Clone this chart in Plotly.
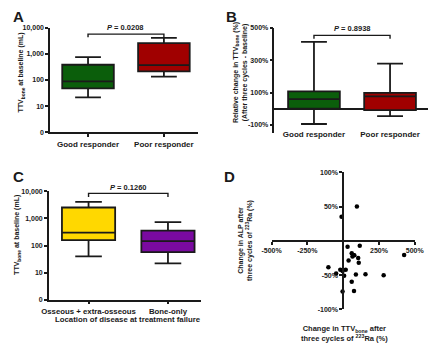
import plotly.graph_objects as go

# ---------------- data ----------------
resp_cats = ["Good responder", "Poor responder"]
# Panel A: TTV_bone at baseline (mL)
a_lower = [21.6, 135]
a_q1 = [48, 213]
a_median = [88, 370]
a_q3 = [380, 2520]
a_upper = [736, 4000]
a_p = "0.0208"

# Panel B: relative change in TTV_bone (%)
b_lower = [-94, -45]
b_q1 = [1, -9]
b_median = [59, 76]
b_q3 = [108, 98]
b_upper = [413, 279]
b_p = "0.8938"

# Panel C: TTV_bone at baseline by location of disease
loc_cats = ["Osseous + extra-osseous", "Bone-only"]
c_lower = [40, 22]
c_q1 = [158, 57]
c_median = [300, 146]
c_q3 = [2550, 355]
c_upper = [4090, 730]
c_p = "0.1260"

# Panel D: change in TTV_bone vs change in ALP (%)
d_ttv = [96, -11, 31, 116, 60, 71, 78, 65, 105, 38, 109, 426, -103, -20, 18, -4,
         -49, 7, 89, 156, 283, 60, -4, 76]
d_alp = [50, 35, -8.6, -7, -18, -20.5, -21, -23, -25, -28.6, -32, -20.5, -38.5, -42,
         -42, -44, -47.6, -51, -49, -48.6, -50, -59.5, -74, -73]

log_tickvals = [1, 10, 100, 1000, 10000]
log_ticktext = ["0", "10", "100", "1,000", "10,000"]
b_tickvals = [-100, 100, 300, 500]
b_ticktext = ["-100%", "100%", "300%", "500%"]
d_xtickvals = [-500, -250, 250, 500]
d_xticktext = ["-500%", "-250%", "250%", "500%"]
d_ytickvals = [-100, -50, 50, 100]
d_yticktext = ["-100%", "-50%", "50%", "100%"]

colors_ab = ["#0b5e0b", "#a00000"]
colors_c = ["#ffd800", "#7a0aa0"]

W, H = 440, 348
FONT = "Liberation Sans, Arial, sans-serif"
INK = "#1a1a1a"


def px(x):
    return x / W


def py(y):
    return 1 - y / H


fig = go.Figure()


def add_boxes(cats, lo, q1, med, q3, hi, cols, xa, ya, bw):
    for i, c in enumerate(cats):
        fig.add_trace(go.Box(
            x=[c], q1=[q1[i]], median=[med[i]], q3=[q3[i]],
            lowerfence=[lo[i]], upperfence=[hi[i]],
            fillcolor=cols[i], line=dict(color=INK, width=1.8),
            width=bw, whiskerwidth=0.5, boxpoints=False,
            xaxis=xa, yaxis=ya, showlegend=False, hoverinfo="skip"))


add_boxes(resp_cats, a_lower, a_q1, a_median, a_q3, a_upper, colors_ab, "x", "y", 0.68)
add_boxes(resp_cats, b_lower, b_q1, b_median, b_q3, b_upper, colors_ab, "x2", "y2", 0.68)
add_boxes(loc_cats, c_lower, c_q1, c_median, c_q3, c_upper, colors_c, "x3", "y3", 0.67)

fig.add_trace(go.Scatter(x=d_ttv, y=d_alp, mode="markers",
                         marker=dict(color="black", size=4.5),
                         xaxis="x4", yaxis="y4", showlegend=False, hoverinfo="skip"))

tickfont = dict(family=FONT, size=7, color=INK, weight="bold")
catfont = dict(family=FONT, size=8, color=INK, weight="bold")
catfont_c = dict(family=FONT, size=7.8, color=INK, weight="bold")
axcommon = dict(showgrid=False, zeroline=False, showline=True, linecolor=INK,
                linewidth=1.5, ticks="outside", ticklen=3, tickwidth=1.5,
                tickcolor=INK)

fig.update_layout(
    width=W, height=H, margin=dict(l=0, r=0, t=0, b=0),
    paper_bgcolor="white", plot_bgcolor="white",
    font=dict(family=FONT, color=INK),
    # Panel A
    xaxis=dict(domain=[px(42), px(197)], range=[-0.5, 1.45], anchor="y",
               tickfont=catfont, **axcommon),
    yaxis=dict(domain=[py(131), py(24)], type="log", range=[0, 4], anchor="x",
               tickvals=log_tickvals, ticktext=log_ticktext, tickfont=tickfont,
               **axcommon),
    # Panel B
    xaxis2=dict(domain=[px(277), px(438)], range=[-0.52, 1.5], anchor="free",
                position=py(127), showline=False, ticks="", showgrid=False,
                zeroline=False, tickfont=catfont),
    yaxis2=dict(domain=[py(131.7), py(24.3)], range=[-150, 500], anchor="x2",
                tickvals=b_tickvals, ticktext=b_ticktext, tickfont=tickfont,
                showgrid=False, showline=True, linecolor=INK, linewidth=1.5,
                ticks="outside", ticklen=3, tickwidth=1.5, tickcolor=INK,
                zeroline=True, zerolinecolor=INK, zerolinewidth=1.5),
    # Panel C
    xaxis3=dict(domain=[px(40.7), px(200)], range=[-0.5, 1.415], anchor="y3",
                tickfont=catfont_c, **axcommon),
    yaxis3=dict(domain=[py(301.7), py(191.3)], type="log", range=[0, 4], anchor="x3",
                tickvals=log_tickvals, ticktext=log_ticktext, tickfont=tickfont,
                **axcommon),
    # Panel D
    xaxis4=dict(domain=[px(274), px(424)], range=[-500, 500], anchor="free",
                position=py(241.7), tickvals=d_xtickvals, ticktext=d_xticktext,
                tickfont=tickfont, **axcommon),
    yaxis4=dict(domain=[py(311.7), py(171.7)], range=[-100, 100], anchor="free",
                position=px(349), tickvals=d_ytickvals, ticktext=d_yticktext,
                tickfont=tickfont, **axcommon),
)

shapes = []
annos = []


def bracket(xa, y_line, y_tick, y_label, p):
    shapes.append(dict(type="path", xref=xa, yref="paper",
                       path=f"M 0,{py(y_tick)} L 0,{py(y_line)} L 1,{py(y_line)} L 1,{py(y_tick)}",
                       line=dict(color=INK, width=1.4)))
    annos.append(dict(xref=xa, yref="paper", x=0.5, y=py(y_label),
                      text=f"<i>P</i> = {p}", showarrow=False,
                      font=dict(family=FONT, size=7.5, color=INK, weight="bold"),
                      xanchor="center", yanchor="middle"))


bracket("x", 30.7, 34, 24, a_p)
bracket("x2", 32, 35.5, 25, b_p)
bracket("x3", 193.3, 197, 187, c_p)

# panel letters
for letter, x, y in [("A", 1, 13), ("B", 224, 13), ("C", 1, 176), ("D", 222, 176)]:
    annos.append(dict(xref="paper", yref="paper", x=px(x), y=py(y), text=letter,
                      showarrow=False, xanchor="left", yanchor="middle",
                      font=dict(family=FONT, size=15, color=INK, weight="bold")))

titlefont = dict(family=FONT, size=7, color=INK, weight="bold")


def title(x, y, text, angle=0, size=None):
    f = dict(titlefont)
    if size:
        f["size"] = size
    annos.append(dict(xref="paper", yref="paper", x=px(x), y=py(y), text=text,
                      textangle=angle, showarrow=False, font=f,
                      xanchor="center", yanchor="middle"))


title(11.5, 70, "TTV<sub>bone</sub> at baseline (mL)", -90)
title(241.5, 70, "Relative change in TTV<sub>bone</sub> (%)<br>(After three cycles - baseline)", -90)
title(8, 236, "TTV<sub>bone</sub> at baseline (mL)", -90)
title(124, 322, "Location of disease at treatment failure", 0, 7.8)
title(246, 241, "Change in ALP after<br>three cycles of <sup>223</sup>Ra (%)", -90)
title(350, 336.5, "Change in TTV<sub>bone</sub> after<br>three cycles of <sup>223</sup>Ra (%)", 0, 7.5)

fig.update_layout(shapes=shapes, annotations=annos)
fig.write_html("out.html")
